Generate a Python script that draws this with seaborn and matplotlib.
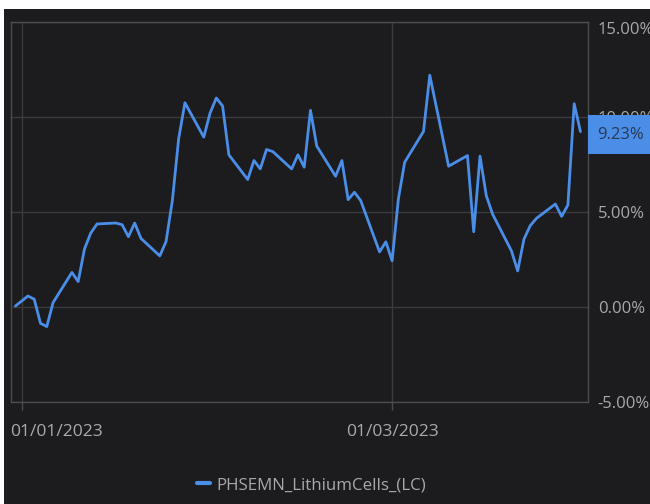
"""Cumulative return of PHSEMN_LithiumCells_(LC), dark terminal style."""

import matplotlib

matplotlib.use("Agg")
import matplotlib.dates as mdates
import matplotlib.pyplot as plt
import matplotlib.transforms as mtransforms
import pandas as pd
import seaborn as sns
from matplotlib.patches import Rectangle

# ── Data ──
dates = [
    "2022-12-31", "2023-01-02", "2023-01-03", "2023-01-04", "2023-01-05", "2023-01-06",
    "2023-01-09", "2023-01-10", "2023-01-11", "2023-01-12", "2023-01-13",
    "2023-01-16", "2023-01-17", "2023-01-18", "2023-01-19", "2023-01-20",
    "2023-01-23", "2023-01-24", "2023-01-25", "2023-01-26", "2023-01-27",
    "2023-01-30", "2023-01-31", "2023-02-01", "2023-02-02", "2023-02-03",
    "2023-02-06", "2023-02-07", "2023-02-08", "2023-02-09", "2023-02-10",
    "2023-02-13", "2023-02-14", "2023-02-15", "2023-02-16", "2023-02-17",
    "2023-02-20", "2023-02-21", "2023-02-22", "2023-02-23", "2023-02-24",
    "2023-02-27", "2023-02-28", "2023-03-01", "2023-03-02", "2023-03-03",
    "2023-03-06", "2023-03-07", "2023-03-10",
    "2023-03-13", "2023-03-14", "2023-03-15", "2023-03-16", "2023-03-17",
    "2023-03-20", "2023-03-21", "2023-03-22", "2023-03-23", "2023-03-24",
    "2023-03-27", "2023-03-28", "2023-03-29", "2023-03-30", "2023-03-31",
]
returns_pct = [
    0.05, 0.58, 0.41, -0.86, -1.03, 0.23,
    1.82, 1.34, 3.05, 3.89, 4.37,
    4.42, 4.33, 3.70, 4.42, 3.61,
    2.69, 3.45, 5.60, 8.85, 10.75,
    8.94, 10.20, 11.00, 10.58, 8.01,
    6.71, 7.71, 7.27, 8.29, 8.18,
    7.27, 8.01, 7.36, 10.35, 8.47,
    6.88, 7.71, 5.65, 6.04, 5.60,
    2.90, 3.43, 2.43, 5.69, 7.62,
    9.24, 12.20, 7.41,
    7.97, 3.96, 7.94, 5.86, 4.89,
    2.96, 1.90, 3.57, 4.28, 4.67,
    5.42, 4.77, 5.37, 10.70, 9.23,
]
series_name = "PHSEMN_LithiumCells_(LC)"
x_ticks = ["2023-01-01", "2023-03-01"]
y_ticks = [-5, 0, 5, 10, 15]

# ── Style ──
BG = "#1c1c1f"
GRID = "#3b3b3e"
FRAME = "#4c4c50"
TEXT = "#a9a9a9"
LINE = "#4a8ee8"

sns.set_theme(style="dark")
plt.rcParams["font.family"] = ["Open Sans", "DejaVu Sans"]

df = pd.DataFrame({"date": pd.to_datetime(dates), "ret": returns_pct})

fig = plt.figure(figsize=(6.5, 5.04), dpi=100, facecolor="white")
# dark panel leaves a thin white strip on the top and left, as in the source
fig.patches.append(
    Rectangle((4 / 650, 0), 1, 1 - 9 / 504, transform=fig.transFigure,
              facecolor=BG, edgecolor="none", zorder=-1)
)
ax = fig.add_axes([10.5 / 650, 1 - 402 / 504, (588 - 10.5) / 650, 380 / 504])
ax.set_facecolor(BG)

sns.lineplot(data=df, x="date", y="ret", ax=ax, color=LINE, linewidth=2.0,
             label=series_name, legend=False)

start = pd.Timestamp("2023-01-01")
ax.set_xlim(start - pd.Timedelta(days=1.78), start + pd.Timedelta(days=90.2))
ax.set_ylim(-5, 15)

ax.set_xticks(pd.to_datetime(x_ticks))
ax.xaxis.set_major_formatter(mdates.DateFormatter("%d/%m/%Y"))
ax.set_yticks(y_ticks)
ax.set_yticklabels([f"{v:.2f}%" for v in y_ticks])
ax.yaxis.tick_right()
ax.set_xlabel("")
ax.set_ylabel("")

ax.grid(True, color=GRID, linewidth=1)
for sp in ax.spines.values():
    sp.set_visible(True)
    sp.set_color(FRAME)
    sp.set_linewidth(1)

ax.tick_params(axis="x", length=6, width=1, color=FRAME, colors=TEXT,
               labelsize=12.6, pad=10, bottom=True)
ax.tick_params(axis="y", length=0, colors=TEXT, labelsize=12, pad=7)

# first date label is pushed right so it stays inside the panel
first = ax.get_xticklabels()[0]
first.set_horizontalalignment("left")
first.set_transform(first.get_transform()
                    + mtransforms.ScaledTranslation(-12 / 100, 0, fig.dpi_scale_trans))

# top percent label sits a little below its gridline
top = ax.get_yticklabels()[-1]
top.set_transform(top.get_transform()
                  + mtransforms.ScaledTranslation(0, -6 / 100, fig.dpi_scale_trans))

# last-value badge on the right axis
last = returns_pct[-1]
badge_tf = mtransforms.blended_transform_factory(ax.transAxes, ax.transData)
ax.add_patch(Rectangle((1, last - 1.17), 0.2, 2.06, transform=badge_tf,
                       facecolor=LINE, edgecolor="none", clip_on=False, zorder=9))
ax.annotate(f"{last:.2f}%", xy=(1, last), xycoords=("axes fraction", "data"),
            xytext=(6.5, -2.5), textcoords="offset points", ha="left", va="center",
            fontsize=12, color="#2a3852", annotation_clip=False, zorder=10)

handle = plt.Line2D([], [], color=LINE, linewidth=3)
fig.legend([handle], [series_name], loc="center", bbox_to_anchor=(312 / 650, 1 - 485 / 504),
           frameon=False, fontsize=12.2, labelcolor=TEXT, handlelength=0.75,
           handletextpad=0.4)

fig.savefig("out.png", dpi=100, facecolor=fig.get_facecolor())
plt.close(fig)
